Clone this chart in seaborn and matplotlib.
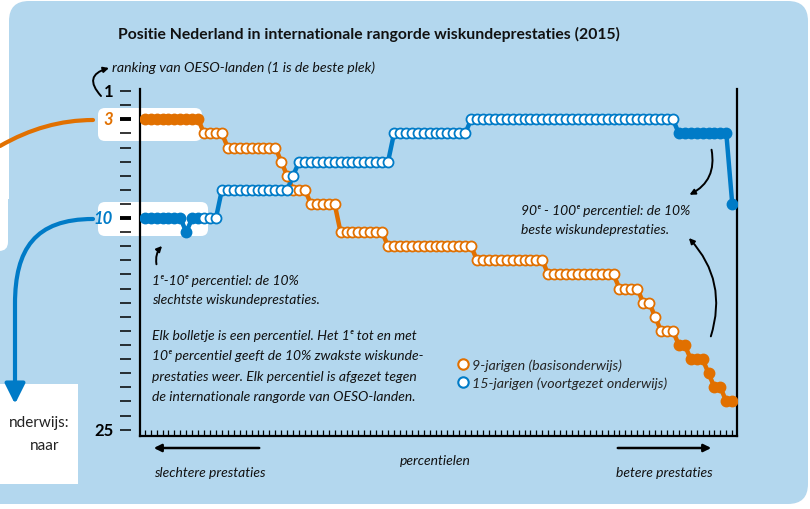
import pandas as pd
import matplotlib.pyplot as plt
import seaborn as sns
from matplotlib.patches import FancyBboxPatch, Rectangle, FancyArrowPatch, PathPatch
from matplotlib.path import Path
from matplotlib.lines import Line2D

# Percentielen (x-as) en positie in de OESO-rangorde (1 = beste plek)
percentielen = list(range(1, 101))
rang_9jarigen = [
    3, 3, 3, 3, 3, 3, 3, 3, 3, 3,
    4, 4, 4, 4, 5, 5, 5, 5, 5, 5,
    5, 5, 5, 6, 7, 8, 8, 8, 9, 9,
    9, 9, 9, 11, 11, 11, 11, 11, 11, 11,
    11, 12, 12, 12, 12, 12, 12, 12, 12, 12,
    12, 12, 12, 12, 12, 12, 13, 13, 13, 13,
    13, 13, 13, 13, 13, 13, 13, 13, 14, 14,
    14, 14, 14, 14, 14, 14, 14, 14, 14, 14,
    15, 15, 15, 15, 16, 16, 17, 18, 18, 18,
    19, 19, 20, 20, 20, 21, 22, 22, 23, 23,
]
rang_15jarigen = [
    10, 10, 10, 10, 10, 10, 10, 11, 10, 10,
    10, 10, 10, 8, 8, 8, 8, 8, 8, 8,
    8, 8, 8, 8, 8, 7, 6, 6, 6, 6,
    6, 6, 6, 6, 6, 6, 6, 6, 6, 6,
    6, 6, 4, 4, 4, 4, 4, 4, 4, 4,
    4, 4, 4, 4, 4, 3, 3, 3, 3, 3,
    3, 3, 3, 3, 3, 3, 3, 3, 3, 3,
    3, 3, 3, 3, 3, 3, 3, 3, 3, 3,
    3, 3, 3, 3, 3, 3, 3, 3, 3, 3,
    4, 4, 4, 4, 4, 4, 4, 4, 4, 9,
]
rang_ticks = list(range(1, 26))
rang_labels = {1: '1', 3: '3', 10: '10', 25: '25'}
reeksen = ['9-jarigen (basisonderwijs)', '15-jarigen (voortgezet onderwijs)']

ORANJE = '#e17000'
BLAUW = '#007bc7'
LICHTBLAUW = '#b3d7ee'

sns.set_theme(style='white')
plt.rcParams['font.family'] = ['Lato', 'DejaVu Sans']

fig = plt.figure(figsize=(8.1, 5.1), dpi=100)
fig.patch.set_facecolor('white')

# achtergrondlaag in pixels (0,0 = linksboven)
bg = fig.add_axes([0, 0, 1, 1])
bg.set_xlim(0, 810)
bg.set_ylim(510, 0)
bg.axis('off')
bg.add_patch(FancyBboxPatch((9, 2), 799, 503, boxstyle='round,pad=0,rounding_size=20',
                            fc=LICHTBLAUW, ec='none'))
bg.add_patch(Rectangle((0, 200), 40, 305, fc=LICHTBLAUW, ec='none'))
bg.add_patch(FancyBboxPatch((-30, -10), 38, 262, boxstyle='round,pad=0,rounding_size=9',
                            fc='white', ec='none'))
bg.add_patch(Rectangle((0, 385), 78, 100, fc='white', ec='none'))
bg.text(69, 423, 'nderwijs:', ha='right', va='center', fontsize=11, color='#222222')
bg.text(30, 446, 'naar', ha='left', va='center', fontsize=11, color='#222222')

# witte labelvlakken achter 3 en 10
bg.add_patch(FancyBboxPatch((98, 109), 104, 33, boxstyle='round,pad=0,rounding_size=7',
                            fc='white', ec='none'))
bg.add_patch(FancyBboxPatch((98, 203), 110, 34, boxstyle='round,pad=0,rounding_size=7',
                            fc='white', ec='none'))

bg.text(118, 34, 'Positie Nederland in internationale rangorde wiskundeprestaties (2015)',
        fontsize=11.3, fontweight='bold', va='center', color='#111111')
bg.text(112, 68, 'ranking van OESO-landen (1 is de beste plek)', fontsize=10.2,
        style='italic', va='center', color='#111111')
bg.add_patch(FancyArrowPatch((101, 97), (109, 69), connectionstyle='arc3,rad=-0.8',
                             arrowstyle='-|>', mutation_scale=8, lw=1.4, color='black',
                             shrinkA=0, shrinkB=0))

# verbindingslijnen naar de zijpanelen
bg.add_patch(PathPatch(Path([(0, 147), (45, 121), (93, 121)],
                            [Path.MOVETO, Path.CURVE3, Path.CURVE3]),
                       fc='none', ec=ORANJE, lw=3, capstyle='round'))
blauwe_pijl = Path([(93, 220), (35, 220), (15, 250), (15, 305), (15, 405)],
                   [Path.MOVETO, Path.CURVE4, Path.CURVE4, Path.CURVE4, Path.LINETO])
bg.add_patch(FancyArrowPatch(path=blauwe_pijl, arrowstyle='-|>,head_length=1.1,head_width=0.55',
                             mutation_scale=11, lw=3, color=BLAUW))

# teksten in de grafiek
tekst = dict(fontsize=10, style='italic', va='center', color='#111111')
bg.text(152, 281, '1ᵉ-10ᵉ percentiel: de 10%', **tekst)
bg.text(152, 300, 'slechtste wiskundeprestaties.', **tekst)
bg.add_patch(FancyArrowPatch((157, 268), (164, 245), connectionstyle='arc3,rad=-0.3',
                             arrowstyle='-|>', mutation_scale=8, lw=1.4, color='black'))
uitleg = ['Elk bolletje is een percentiel. Het 1ᵉ tot en met',
          '10ᵉ percentiel geeft de 10% zwakste wiskunde-',
          'prestaties weer. Elk percentiel is afgezet tegen',
          'de internationale rangorde van OESO-landen.']
for i, regel in enumerate(uitleg):
    bg.text(152, 336 + i * 20.3, regel, **tekst)

bg.text(521, 211, '90ᵉ - 100ᵉ percentiel: de 10%', **tekst)
bg.text(521, 230, 'beste wiskundeprestaties.', **tekst)
bg.add_patch(FancyArrowPatch((711, 148), (687, 197), connectionstyle='arc3,rad=-0.4',
                             arrowstyle='-|>', mutation_scale=8, lw=1.4, color='black'))
bg.add_patch(FancyArrowPatch((710, 340), (687, 237), connectionstyle='arc3,rad=0.3',
                             arrowstyle='-|>', mutation_scale=8, lw=1.4, color='black'))

bg.text(435, 461, 'percentielen', ha='center', **tekst)
bg.text(210, 473, 'slechtere prestaties', ha='center', **tekst)
bg.text(664, 473, 'betere prestaties', ha='center', **tekst)
bg.annotate('', xy=(151, 449), xytext=(262, 449),
            arrowprops=dict(arrowstyle='-|>', lw=1.8, color='black', mutation_scale=11))
bg.annotate('', xy=(714, 449), xytext=(615, 449),
            arrowprops=dict(arrowstyle='-|>', lw=1.8, color='black', mutation_scale=11))

# grafiek
ax = fig.add_axes([140 / 810, 73 / 510, 597 / 810, 347 / 510])
ax.set_zorder(2)
ax.patch.set_visible(False)

df = pd.DataFrame({
    'percentiel': percentielen * 2,
    'rang': rang_9jarigen + rang_15jarigen,
    'groep': [reeksen[0]] * 100 + [reeksen[1]] * 100,
})
df['gevuld'] = (df['percentiel'] <= 10) | (df['percentiel'] >= 91)

for groep, kleur in zip(reeksen, [ORANJE, BLAUW]):
    d = df[df['groep'] == groep]
    sns.lineplot(data=d, x='percentiel', y='rang', color=kleur, lw=3.2, ax=ax,
                 solid_capstyle='round')
    for deel in [d[d['percentiel'] <= 10], d[~d['gevuld']], d[d['percentiel'] >= 91]]:
        vol = deel['gevuld'].all()
        sns.scatterplot(data=deel, x='percentiel', y='rang', ax=ax, s=52,
                        color=kleur if vol else 'white', edgecolor=kleur,
                        linewidth=1.3, zorder=3, legend=False)

ax.set_xlim(0.2, 100.8)
ax.set_ylim(25.45, 0.85)
ax.set_xlabel('')
ax.set_ylabel('')
ax.set_xticks(percentielen)
ax.set_xticklabels([])
ax.tick_params(axis='x', direction='in', length=4.5, width=0.9, color='black', bottom=True)
ax.set_yticks([])
for s in ['left', 'bottom', 'right']:
    ax.spines[s].set_visible(True)
    ax.spines[s].set_color('black')
    ax.spines[s].set_linewidth(1.6)
ax.spines['top'].set_visible(False)

# losse streepjes links van de as
ytrans = ax.get_yaxis_transform()
for r in rang_ticks:
    dik = r in (3, 10)
    ax.plot([-0.034, -0.015], [r, r], transform=ytrans, clip_on=False, color='black',
            lw=2.8 if dik else 1.1, solid_capstyle='butt')
for r, lab in rang_labels.items():
    kleur = {3: ORANJE, 10: BLAUW}.get(r, 'black')
    ax.text(-0.045, r, lab, transform=ytrans, ha='right', va='center', fontsize=12,
            fontweight='bold', style='italic' if r in (3, 10) else 'normal', color=kleur)

handles = [Line2D([], [], ls='', marker='o', ms=7.5, mfc='white', mec=k, mew=1.5)
           for k in [ORANJE, BLAUW]]
ax.legend(handles, reeksen, loc='upper left', bbox_to_anchor=(0.52, 0.24), frameon=False,
          handletextpad=0.1, handlelength=1.0, labelspacing=0.4, borderaxespad=0,
          prop={'style': 'italic', 'size': 10.3})

fig.savefig('out.png', dpi=100)
